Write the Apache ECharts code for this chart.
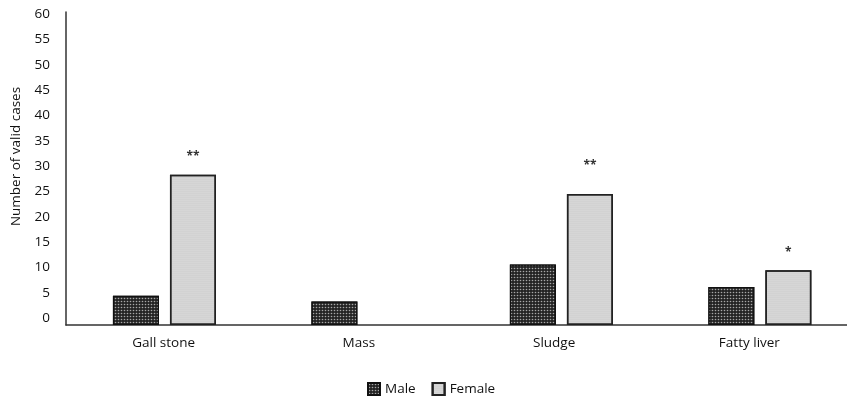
<!DOCTYPE html>
<html>
<head>
<meta charset="utf-8">
<script src="https://cdn.jsdelivr.net/npm/echarts@6/dist/echarts.min.js"></script>
<style>html,body{margin:0;padding:0;background:#fff}#c{width:847px;height:398px}</style>
</head>
<body>
<div id="c"></div>
<script>
var categories = ['Gall stone', 'Mass', 'Sludge', 'Fatty liver'];
var maleValues = [5.6, 4.5, 11.6, 7.3];
var femaleValues = [28.8, 0, 25.1, 10.5];
var femaleMarks = ['**', '', '**', '*'];
var yTicks = [0, 5, 10, 15, 20, 25, 30, 35, 40, 45, 50, 55, 60];

var FONT = '"Open Sans", "Noto Sans", sans-serif';
var chart = echarts.init(document.getElementById('c'), null, {renderer: 'canvas'});

var maleDecal = {symbol: 'circle', symbolSize: 0.55, color: 'rgba(255,255,255,0.6)', dashArrayX: [3, 0], dashArrayY: [3, 0], rotation: 0};
var femaleDecal = {symbol: 'circle', symbolSize: 0.6, color: 'rgba(120,120,120,0.5)', dashArrayX: [2, 0], dashArrayY: [2, 0], rotation: 0};

chart.setOption({
  animation: false,
  backgroundColor: '#fff',
  textStyle: {fontFamily: FONT},
  legend: {
    data: ['Male', 'Female'],
    left: 362, top: 377,
    icon: 'rect', itemWidth: 12, itemHeight: 12, itemGap: 16,
    textStyle: {fontSize: 13.5, color: '#111', fontFamily: FONT}
  },
  grid: [
    {left: 66, right: 0, top: 12, bottom: 73},
    {left: 66, right: 0, top: 14, bottom: 80}
  ],
  xAxis: [
    {type: 'value', gridIndex: 0, min: -0.496, max: 3.439,
     axisLine: {show: true, onZero: false, lineStyle: {color: '#333', width: 1.5}},
     axisTick: {show: false}, axisLabel: {show: false}, splitLine: {show: false}},
    {type: 'category', gridIndex: 1, data: categories,
     axisLine: {show: false}, axisTick: {show: false},
     axisLabel: {show: true, margin: 18, fontSize: 13.5, color: '#111', fontFamily: FONT}}
  ],
  yAxis: [
    {type: 'value', gridIndex: 0, min: 0, max: 60, interval: 5,
     position: 'left', offset: 0,
     name: 'Number of valid cases', nameLocation: 'middle', nameGap: 43,
     nameTextStyle: {fontSize: 13.5, color: '#111', fontFamily: FONT, padding: [0, 0, 0, 24]},
     axisLine: {show: true, onZero: false, lineStyle: {color: '#333', width: 1.5}},
     axisTick: {show: false}, splitLine: {show: false}, axisLabel: {show: false}},
    {type: 'value', gridIndex: 1, min: 0, max: 60, interval: 5,
     axisLine: {show: false}, axisTick: {show: false}, splitLine: {show: false},
     axisLabel: {fontSize: 13.5, color: '#111', margin: 16, fontFamily: FONT,
       formatter: function (v) { return yTicks.indexOf(v) >= 0 ? String(v) : ''; }}}
  ],
  series: [
    {name: 'Male', type: 'bar', xAxisIndex: 0, yAxisIndex: 0,
     data: maleValues.map(function (v, i) { return [i, v]; }),
     barWidth: 46, barGap: '24%',
     itemStyle: {color: '#242424', borderColor: '#111', borderWidth: 1.2, decal: maleDecal}},
    {name: 'Female', type: 'bar', xAxisIndex: 0, yAxisIndex: 0,
     data: femaleValues.map(function (v, i) {
       return {value: [i, v], itemStyle: v === 0 ? {opacity: 0} : undefined,
         label: {show: femaleMarks[i] !== '', formatter: femaleMarks[i], distance: i === 2 ? 22 : 12}};
     }),
     barWidth: 46, barGap: '24%',
     label: {show: true, position: 'top', fontSize: 12, fontWeight: 'bold', color: '#333', fontFamily: FONT},
     itemStyle: {color: '#e0e0e0', borderColor: '#222', borderWidth: 1.5, decal: femaleDecal}}
  ]
});
</script>
</body>
</html>
